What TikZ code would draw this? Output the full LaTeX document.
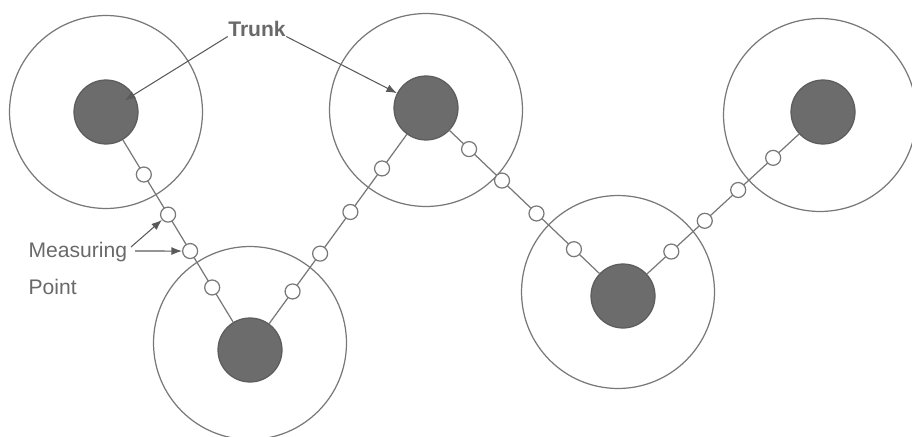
\documentclass[tikz,border=0pt]{standalone}
\usepackage{fontspec}
\setmainfont{Liberation Sans}
\usepackage{tikz}
\usetikzlibrary{arrows.meta}

\definecolor{linegray}{RGB}{120,120,120}
\definecolor{trunkgray}{RGB}{108,108,108}
\definecolor{textgray}{RGB}{105,105,105}
\definecolor{pointgray}{RGB}{90,90,90}

\begin{document}
\begin{tikzpicture}[x=0.02cm, y=-0.02cm, line width=0.7pt, draw=linegray,
        crown/.style={circle, draw=linegray, minimum size=3.86cm, inner sep=0pt},
        trunk/.style={circle, fill=trunkgray, draw=trunkgray!85!black, minimum size=1.28cm, inner sep=0pt},
        mpoint/.style={circle, draw=linegray, fill=white, minimum size=0.3cm, inner sep=0pt},
        pointer/.style={-{Latex[length=6pt, width=4.5pt]}, draw=pointgray, line width=0.6pt}]
        \useasboundingbox (0,0) rectangle (912,436);

        \node[crown] (c1) at (106,112) {};
        \node[crown] (c2) at (250,343) {};
        \node[crown] (c3) at (426,110) {};
        \node[crown] (c4) at (618,292) {};
        \node[crown] (c5) at (820,115) {};

        \node[trunk] (t1) at (106,112) {};
        \node[trunk] (t2) at (250,350) {};
        \node[trunk] (t3) at (426,108) {};
        \node[trunk] (t4) at (623,296) {};
        \node[trunk] (t5) at (823,112) {};

        \path[draw=linegray]
        (t1) edge node[mpoint, pos=0.19] (m11) {} node[mpoint, pos=0.41] (m12) {}
                  node[mpoint, pos=0.61] (m13) {} node[mpoint, pos=0.81] (m14) {} (t2)
        (t2) edge node[mpoint, pos=0.17] (m21) {} node[mpoint, pos=0.37] (m22) {}
                  node[mpoint, pos=0.59] (m23) {} node[mpoint, pos=0.82] (m24) {} (t3)
        (t3) edge node[mpoint, pos=0.13] (m31) {} node[mpoint, pos=0.35] (m32) {}
                  node[mpoint, pos=0.58] (m33) {} node[mpoint, pos=0.83] (m34) {} (t4)
        (t4) edge node[mpoint, pos=0.16] (m41) {} node[mpoint, pos=0.38] (m42) {}
                  node[mpoint, pos=0.60] (m43) {} node[mpoint, pos=0.83] (m44) {} (t5);

        \node[text=textgray, font=\bfseries\fontsize{12}{14}\selectfont, inner sep=0pt] (trk) at (257,29) {Trunk};
        \node[text=textgray, font=\fontsize{12}{21}\selectfont, align=left, anchor=north west, inner sep=0pt] (mlbl) at (28,242) {Measuring\\Point};

        \coordinate (ma) at (131,247);
        \coordinate (mb) at (135,251);

        \draw[pointer, shorten >=-6pt] (trk.base west) -- (t1);
        \draw[pointer] (trk.base east) -- (t3);
        \draw[pointer] (ma) -- (m12);
        \draw[pointer] (mb) -- (m13);
\end{tikzpicture}
\end{document}
